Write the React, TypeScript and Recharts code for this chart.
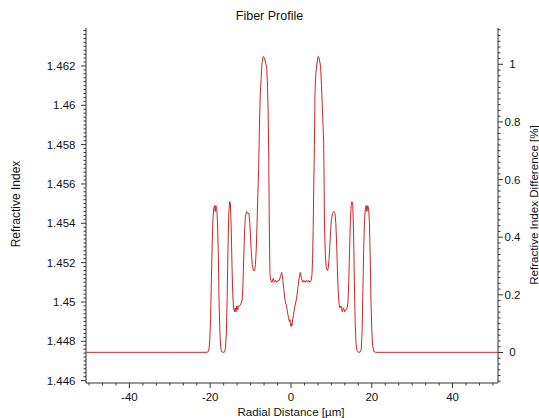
import React from 'react';
import { LineChart, Line, XAxis, YAxis } from 'recharts';

const radialDistance: number[] = [
  -50.75, -30, -21, -20.6, -20.3, -20.1, -19.9, -19.7, -19.5, -19.3, -19.1, -18.9, -18.75, -18.6, -18.4, -18.2,
  -18.0, -17.8, -17.6, -17.4, -17.2, -16.8, -16.4, -16.2, -16.0, -15.8, -15.6, -15.4, -15.2, -15.0, -14.8,
  -14.6, -14.4, -14.2, -14.0, -13.8, -13.6, -13.4, -13.2, -13.0, -12.7, -12.4, -12.1, -11.9, -11.7, -11.5,
  -11.3, -11.0, -10.7, -10.4, -10.2, -10.0, -9.8, -9.6, -9.3, -9.0, -8.8, -8.6, -8.4, -8.2, -8.0, -7.8,
  -7.6, -7.4, -7.2, -7.0, -6.85, -6.6, -6.3, -6.0, -5.8, -5.65, -5.5, -5.4, -5.3, -5.2, -5.0, -4.7, -4.4,
  -4.1, -3.8, -3.5, -3.2, -2.9, -2.6, -2.3, -2.0, -1.7, -1.4, -1.1, -0.8, -0.6, -0.4, -0.25, -0.1, 0,
  0.1, 0.25, 0.4, 0.6, 0.8, 1.1, 1.4, 1.7, 2.0, 2.3, 2.6, 2.9, 3.2, 3.5, 3.8, 4.1, 4.4, 4.7, 5.0, 5.2,
  5.35, 5.5, 5.65, 5.8, 5.95, 6.15, 6.35, 6.55, 6.75, 6.95, 7.15, 7.35, 7.55, 7.75, 7.95, 8.1, 8.2, 8.3,
  8.5, 8.7, 9.0, 9.2, 9.4, 9.6, 9.8, 10.0, 10.3, 10.6, 10.9, 11.1, 11.3, 11.5, 11.7, 11.9, 12.1, 12.4,
  12.7, 13.0, 13.3, 13.6, 13.9, 14.1, 14.3, 14.5, 14.7, 14.9, 15.1, 15.3, 15.5, 15.7, 15.9, 16.1, 16.3,
  16.7, 17.1, 17.4, 17.6, 17.8, 18.0, 18.2, 18.4, 18.6, 18.8, 19.0, 19.2, 19.4, 19.6, 19.8, 20.0, 20.2,
  20.5, 21.0, 51.25,
];

const refractiveIndex: number[] = [
  1.44744, 1.44744, 1.44744, 1.44745, 1.4476, 1.4481, 1.4492, 1.4512, 1.4531, 1.4543, 1.4548, 1.4549, 1.4546, 1.4549, 1.4548, 1.4541,
  1.4525, 1.4500, 1.4484, 1.4477, 1.44748, 1.44744, 1.44746, 1.4477, 1.4484, 1.4502, 1.4527, 1.4545, 1.4551, 1.4550, 1.4538,
  1.4518, 1.4503, 1.4497, 1.4495, 1.4497, 1.4495, 1.4498, 1.4496, 1.4498, 1.4498, 1.4499, 1.4501, 1.4508, 1.4522, 1.4536,
  1.4543, 1.4546, 1.4545, 1.4545, 1.4540, 1.4532, 1.4525, 1.4519, 1.4516, 1.4516, 1.4519, 1.4527, 1.4540, 1.4555, 1.4568, 1.4590,
  1.4606, 1.4613, 1.4621, 1.4624, 1.46248, 1.4624, 1.4622, 1.4619, 1.4609, 1.4596, 1.4572, 1.4545, 1.4527, 1.4514, 1.4511, 1.4510, 1.4512,
  1.4510, 1.4511, 1.4510, 1.4511, 1.4511, 1.4513, 1.4515, 1.4511, 1.4505, 1.4500, 1.4498, 1.4494, 1.4492, 1.4490, 1.4491, 1.4488, 1.44875,
  1.4489, 1.4488, 1.4491, 1.4493, 1.4496, 1.4499, 1.4502, 1.4507, 1.4512, 1.4515, 1.4512, 1.4510, 1.4511, 1.4510, 1.4511, 1.4510, 1.4511, 1.4510, 1.4511, 1.4514,
  1.4522, 1.4538, 1.4560, 1.4580, 1.4607, 1.4616, 1.4620, 1.4623, 1.46248, 1.4624, 1.4622, 1.4619, 1.4610, 1.4600, 1.4589, 1.4580, 1.4560, 1.4538,
  1.4524, 1.4518, 1.4516, 1.4517, 1.4521, 1.4528, 1.4536, 1.4542, 1.4545, 1.4546, 1.4545, 1.4540, 1.4530, 1.4516, 1.4505, 1.4499, 1.4497, 1.4498,
  1.4495, 1.4497, 1.4495, 1.4496, 1.4497, 1.4500, 1.4510, 1.4526, 1.4541, 1.4549, 1.4551, 1.4549, 1.4535, 1.4510, 1.4489, 1.4479, 1.44755,
  1.44744, 1.44745, 1.4476, 1.4485, 1.4505, 1.4527, 1.4542, 1.4547, 1.4549, 1.4546, 1.4549, 1.4548, 1.4541, 1.4524, 1.4501, 1.4486, 1.4478,
  1.44748, 1.44744, 1.44744,
];

const leftTickLabels = ['1.446', '1.448', '1.45', '1.452', '1.454', '1.456', '1.458', '1.46', '1.462'];
const rightTickLabels = ['0', '0.2', '0.4', '0.6', '0.8', '1'];
const xTickLabels = ['-40', '-20', '0', '20', '40'];

const leftMajor = leftTickLabels.map(Number);
const rightMajor = rightTickLabels.map(Number);
const xMajor = xTickLabels.map(Number);

const leftTicks: number[] = [];
for (let i = 0; i <= 89; i++) leftTicks.push(Math.round((1.446 + 0.0002 * i) * 1e5) / 1e5);
const rightTicks: number[] = [];
for (let i = -5; i <= 56; i++) rightTicks.push(Math.round(i * 0.02 * 1e4) / 1e4);
const xTicks: number[] = [];
for (let k = -15; k <= 15; k++) xTicks.push((k * 10) / 3);

const data = radialDistance.map((x, i) => ({ x, n: refractiveIndex[i] }));

const FONT = '"Liberation Sans", Arial, sans-serif';
const AXIS = '#333';
const LINE = '#d42424';

const near = (v: number, arr: number[]) => arr.some((m) => Math.abs(m - v) < 1e-7);

const LeftTick = (props: any) => {
  const { x, y, payload } = props;
  const v = payload.value;
  const major = near(v, leftMajor);
  const idx = leftMajor.findIndex((m) => Math.abs(m - v) < 1e-7);
  return (
    <g>
      <line x1={x} x2={x - (major ? 5 : 2.5)} y1={y} y2={y} stroke={AXIS} />
      {major && (
        <text x={x - 10.5} y={y + 4} textAnchor="end" fontSize={11.5} fontFamily={FONT} fill="#111">
          {leftTickLabels[idx]}
        </text>
      )}
    </g>
  );
};

const RightTick = (props: any) => {
  const { x, y, payload } = props;
  const v = payload.value;
  const idx = rightMajor.findIndex((m) => Math.abs(m - v) < 1e-7);
  const major = idx >= 0;
  return (
    <g>
      <line x1={x} x2={x + (major ? 5 : 2.5)} y1={y} y2={y} stroke={AXIS} />
      {major && (
        <text x={x + 14.5} y={y + 4} textAnchor="middle" fontSize={11.5} fontFamily={FONT} fill="#111">
          {rightTickLabels[idx]}
        </text>
      )}
    </g>
  );
};

const XTick = (props: any) => {
  const { x, y, payload } = props;
  const v = payload.value;
  const idx = xMajor.findIndex((m) => Math.abs(m - v) < 1e-7);
  const major = idx >= 0;
  return (
    <g>
      <line x1={x} x2={x} y1={y} y2={y + (major ? 5 : 2.5)} stroke={AXIS} />
      {major && (
        <text x={x} y={y + 18} textAnchor="middle" fontSize={11.5} fontFamily={FONT} fill="#111">
          {xTickLabels[idx]}
        </text>
      )}
    </g>
  );
};

const LeftLabel = () => (
  <g>
    <text x={269.5} y={20} textAnchor="middle" fontSize={12.5} fontFamily={FONT} fill="#111">
      Fiber Profile
    </text>
    <text transform="translate(19.5,204) rotate(-90)" textAnchor="middle" fontSize={12} fontFamily={FONT} fill="#111">
      Refractive Index
    </text>
  </g>
);

const RightLabel = () => (
  <text transform="translate(537.5,205) rotate(-90)" textAnchor="middle" fontSize={11.6} fontFamily={FONT} fill="#111">
    Refractive Index Difference [%]
  </text>
);

const XLabel = () => (
  <text x={291} y={416} textAnchor="middle" fontSize={11.6} fontFamily={FONT} fill="#111">
    Radial Distance [µm]
  </text>
);

export default function App() {
  return (
    <div style={{ position: 'absolute', left: 0, top: 0, background: '#fff' }}>
      <LineChart width={539} height={418} data={data} margin={{ top: 28, right: 0, bottom: 0, left: 0 }}>
        <XAxis
          dataKey="x"
          type="number"
          domain={[-50.75, 51.25]}
          ticks={xTicks}
          interval={0}
          allowDataOverflow
          tickSize={0}
          tickMargin={0}
          tickLine={false}
          tick={XTick}
          height={35}
          stroke={AXIS}
          label={{ content: XLabel }}
        />
        <YAxis
          yAxisId="left"
          orientation="left"
          type="number"
          domain={[1.44588, 1.46393]}
          ticks={leftTicks}
          interval={0}
          allowDataOverflow
          width={86}
          tickSize={0}
          tickMargin={0}
          tickLine={false}
          tick={LeftTick}
          stroke={AXIS}
          label={{ content: LeftLabel }}
        />
        <YAxis
          yAxisId="right"
          orientation="right"
          type="number"
          domain={[-0.106, 1.126]}
          ticks={rightTicks}
          interval={0}
          allowDataOverflow
          width={41}
          tickSize={0}
          tickMargin={0}
          tickLine={false}
          tick={RightTick}
          stroke={AXIS}
          label={{ content: RightLabel }}
        />
        <Line
          yAxisId="left"
          dataKey="n"
          type="linear"
          stroke={LINE}
          strokeWidth={1}
          dot={false}
          activeDot={false}
          isAnimationActive={false}
        />
      </LineChart>
    </div>
  );
}
